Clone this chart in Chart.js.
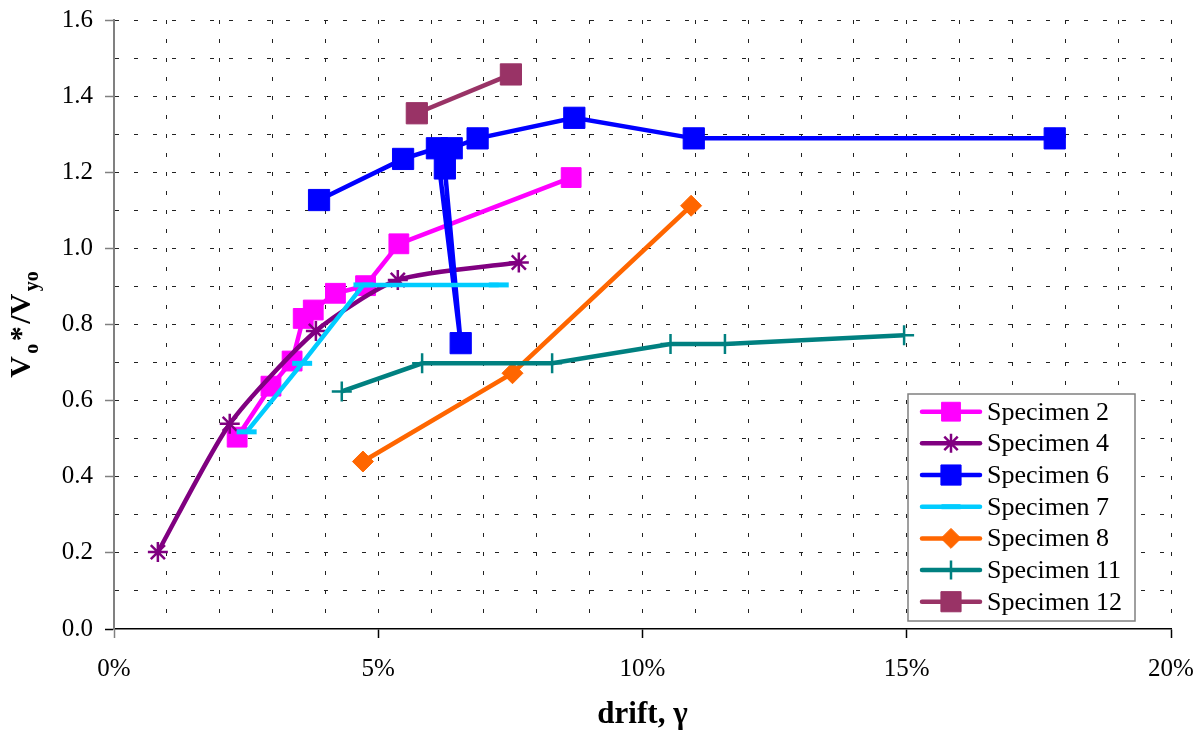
<!DOCTYPE html>
<html>
<head>
<meta charset="utf-8">
<script src="https://cdn.jsdelivr.net/npm/chart.js@4.4.1/dist/chart.umd.min.js"></script>
<style>
  html, body { margin: 0; padding: 0; background: #fff; }
  #wrap { width: 1203px; height: 732px; }
</style>
</head>
<body>
<div id="wrap"><canvas id="chart" width="1203" height="732"></canvas></div>
<script>
// values (drift in %, Vo*/Vyo)
const seriesNames = ["Specimen 2", "Specimen 4", "Specimen 6", "Specimen 7", "Specimen 8", "Specimen 11", "Specimen 12"];

const spec2Drift = [2.33, 2.97, 3.37, 3.58, 3.77, 4.19, 4.76, 5.39, 8.65];
const spec2Ratio = [0.504, 0.638, 0.704, 0.816, 0.838, 0.882, 0.902, 1.012, 1.186];

const spec4Drift = [0.83, 2.19, 3.82, 5.37, 7.66];
const spec4Ratio = [0.202, 0.539, 0.783, 0.917, 0.963];

const spec6Drift = [3.88, 5.47, 6.11, 6.56, 6.26, 6.39, 6.88, 8.71, 10.97, 17.8];
const spec6Ratio = [1.127, 1.235, 1.263, 0.751, 1.210, 1.263, 1.289, 1.343, 1.289, 1.289];

const spec7Drift = [2.51, 3.56, 4.72, 7.28];
const spec7Ratio = [0.518, 0.698, 0.904, 0.904];

const spec8Drift = [4.71, 7.54, 10.92];
const spec8Ratio = [0.440, 0.672, 1.112];

const spec11Drift = [4.31, 5.83, 8.29, 10.53, 11.56, 14.95];
const spec11Ratio = [0.624, 0.698, 0.698, 0.749, 0.749, 0.772];

const spec12Drift = [5.73, 7.51];
const spec12Ratio = [1.355, 1.457];

const xTickLabels = ["0%", "5%", "10%", "15%", "20%"];
const yTickLabels = ["0.0", "0.2", "0.4", "0.6", "0.8", "1.0", "1.2", "1.4", "1.6"];

const FONT = "'Liberation Serif', 'Times New Roman', serif";

function pts(xs, ys) {
    return xs.map((x, i) => ({ x: x, y: ys[i] }));
}

const styles = [
    { color: "#FF00FF", point: "rect", radius: 14, pbw: 1, tension: 0 },
    { color: "#800080", point: "star", radius: 10, pbw: 2.5, tension: 0.22 },
    { color: "#0000FF", point: "rect", radius: 15, pbw: 1, tension: 0 },
    { color: "#00CCFF", point: "line", radius: 10, pbw: 5, tension: 0 },
    { color: "#FF6600", point: "rectRot", radius: 10.5, pbw: 1, tension: 0 },
    { color: "#008080", point: "cross", radius: 10, pbw: 2.5, tension: 0 },
    { color: "#993366", point: "rect", radius: 15, pbw: 1, tension: 0 },
];

const seriesData = [
    pts(spec2Drift, spec2Ratio),
    pts(spec4Drift, spec4Ratio),
    pts(spec6Drift, spec6Ratio),
    pts(spec7Drift, spec7Ratio),
    pts(spec8Drift, spec8Ratio),
    pts(spec11Drift, spec11Ratio),
    pts(spec12Drift, spec12Ratio),
];

const datasets = seriesNames.map((name, i) => ({
    label: name,
    data: seriesData[i],
    borderColor: styles[i].color,
    backgroundColor: styles[i].color,
    borderWidth: 4.5,
    tension: styles[i].tension,
    pointStyle: styles[i].point,
    pointRadius: styles[i].radius,
    pointBorderWidth: styles[i].pbw,
    pointBackgroundColor: styles[i].color,
    pointBorderColor: styles[i].color,
    showLine: true,
    fill: false,
    order: -i,   // later series on top, like the original
}));

// keep the plot box fixed: no extra room for label overhang
function noOverhang(scale) {
    scale.paddingTop = 0;
    scale.paddingBottom = 0;
    scale.paddingLeft = 0;
    scale.paddingRight = 0;
}

// legend + axis titles drawn by hand (line sample with marker, subscripts)
const extrasPlugin = {
    id: "extras",
    afterDraw(chart) {
        const ctx = chart.ctx;

        // legend box
        const bx = 908, by = 394, bw = 227, bh = 227;
        ctx.save();
        ctx.fillStyle = "#fff";
        ctx.fillRect(bx, by, bw, bh);
        ctx.strokeStyle = "#808080";
        ctx.lineWidth = 1.5;
        ctx.strokeRect(bx, by, bw, bh);
        ctx.font = "26px " + FONT;
        ctx.textBaseline = "middle";
        seriesNames.forEach((name, i) => {
            const y = 411.7 + i * 31.67;
            const st = styles[i];
            ctx.strokeStyle = st.color;
            ctx.fillStyle = st.color;
            ctx.lineWidth = 4.5;
            ctx.lineCap = "round";
            ctx.beginPath();
            ctx.moveTo(922, y);
            ctx.lineTo(980, y);
            ctx.stroke();
            ctx.lineCap = "butt";
            ctx.lineWidth = st.pbw;
            if (Chart.helpers && Chart.helpers.drawPoint) {
                Chart.helpers.drawPoint(ctx, {
                    pointStyle: st.point,
                    radius: st.radius * 0.95,
                    rotation: 0,
                    borderWidth: st.pbw,
                }, 951, y);
            }
            ctx.fillStyle = "#000";
            ctx.fillText(name, 987, y + 1);
        });
        ctx.restore();

        // x title
        ctx.save();
        ctx.fillStyle = "#000";
        ctx.font = "bold 31px " + FONT;
        ctx.textAlign = "center";
        ctx.textBaseline = "alphabetic";
        ctx.fillText("drift, \u03b3", (chart.chartArea.left + chart.chartArea.right) / 2, 723);
        ctx.restore();

        // y title with subscripts
        ctx.save();
        ctx.fillStyle = "#000";
        ctx.translate(30, (chart.chartArea.top + chart.chartArea.bottom) / 2);
        ctx.rotate(-Math.PI / 2);
        ctx.textBaseline = "alphabetic";
        const parts = [["V", 30, 0], ["o", 20, 8], ["*", 30, 0], ["/V", 30, 0], ["yo", 20, 8]];
        const gap = 2.5;
        let total = 0;
        parts.forEach(p => {
            ctx.font = "bold " + p[1] + "px " + FONT;
            p.push(ctx.measureText(p[0]).width);
            total += p[3] + gap;
        });
        total -= gap;
        let x = -total / 2;
        parts.forEach(p => {
            ctx.font = "bold " + p[1] + "px " + FONT;
            ctx.fillText(p[0], x, p[2]);
            x += p[3] + gap;
        });
        ctx.restore();
    }
};

new Chart(document.getElementById("chart"), {
    type: "scatter",
    data: { datasets: datasets },
    options: {
        responsive: false,
        animation: false,
        events: [],
        layout: { padding: { left: 0, right: 32, top: 20, bottom: 0 } },
        plugins: {
            legend: { display: false },
            tooltip: { enabled: false },
        },
        scales: {
            x: {
                type: "linear",
                min: 0,
                max: 20,
                afterFit: (scale) => { scale.height = 103; noOverhang(scale); },
                ticks: {
                    stepSize: 1,
                    autoSkip: false,
                    maxRotation: 0,
                    padding: 16,
                    color: "#000",
                    font: { family: FONT, size: 25 },
                    callback: (v) => (Math.round(v) % 5 === 0 ? xTickLabels[Math.round(v) / 5] : ""),
                },
                grid: {
                    color: (c) => (c.tick && c.tick.value === 0 ? "rgba(0,0,0,0)" : "#222"),
                    lineWidth: 1,
                    tickLength: 9,
                    tickWidth: 1.5,
                    tickColor: (c) => {
                        const v = Math.round(c.tick.value);
                        if (v === 0) return "#808080";
                        return v % 5 === 0 ? "#000" : "rgba(0,0,0,0)";
                    },
                },
                border: { display: true, color: "#000", width: 1.5, dash: [4, 15] },
            },
            y: {
                type: "linear",
                min: 0,
                max: 1.6,
                afterFit: (scale) => { scale.width = 114; noOverhang(scale); },
                ticks: {
                    stepSize: 0.1,
                    autoSkip: false,
                    padding: 12,
                    color: "#000",
                    font: { family: FONT, size: 25 },
                    callback: (v) => {
                        const k = Math.round(v * 10);
                        return k % 2 === 0 ? yTickLabels[k / 2] : "";
                    },
                },
                grid: {
                    color: (c) => (c.tick && Math.round(c.tick.value * 10) === 0 ? "rgba(0,0,0,0)" : "#222"),
                    lineWidth: 1,
                    tickLength: 9,
                    tickWidth: 1.5,
                    tickColor: (c) => {
                        const k = Math.round(c.tick.value * 10);
                        if (k === 0) return "#000";
                        return k % 2 === 0 ? "#808080" : "rgba(0,0,0,0)";
                    },
                },
                border: { display: true, color: "#808080", width: 2, dash: [4, 15] },
            },
        },
    },
    plugins: [extrasPlugin],
});
</script>
</body>
</html>
